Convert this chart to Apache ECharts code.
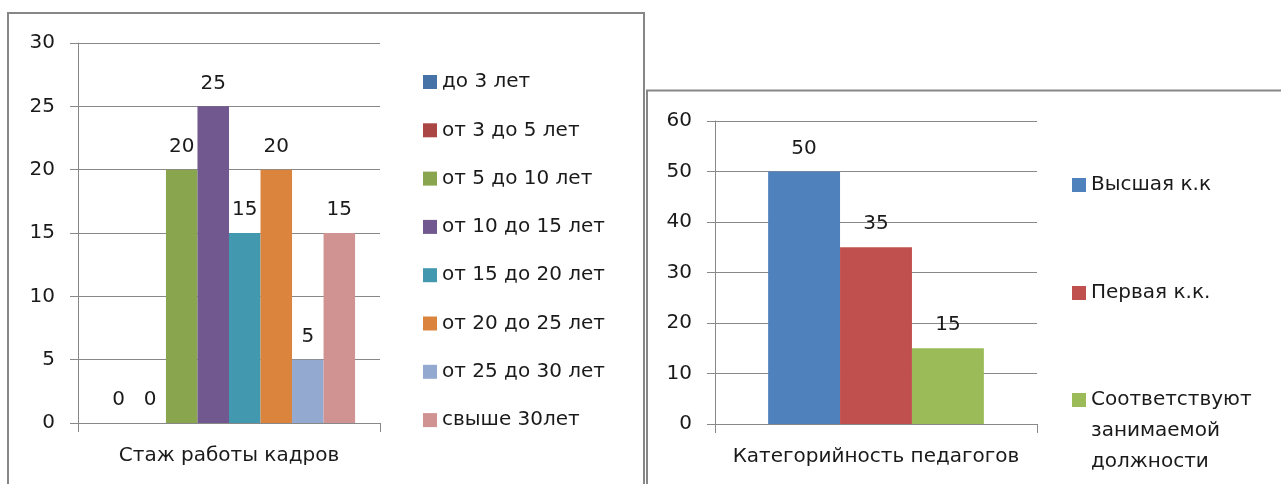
<!DOCTYPE html>
<html>
<head>
<meta charset="utf-8">
<script src="https://cdn.jsdelivr.net/npm/echarts@6/dist/echarts.min.js"></script>
<style>
  html, body { margin: 0; padding: 0; background: #fff; }
  #main { width: 1281px; height: 484px; }
</style>
</head>
<body>
<div id="main"></div>
<script>
// left chart: staff experience
var stageCategory = ["Стаж работы кадров"];
var stageNames = ["до 3 лет", "от 3 до 5 лет", "от 5 до 10 лет", "от 10 до 15 лет",
  "от 15 до 20 лет", "от 20 до 25 лет", "от 25 до 30 лет", "свыше 30лет"];
var stageValues = [0, 0, 20, 25, 15, 20, 5, 15];
var stageColors = ["#4573a7", "#aa4643", "#89a54e", "#71588f", "#4198af", "#db843d", "#93a9cf", "#d19392"];

// right chart: teacher categories
var rankCategory = ["Категорийность педагогов"];
var rankNames = ["Высшая к.к", "Первая к.к.", "Соответствуют занимаемой должности"];
var rankValues = [50, 35, 15];
var rankColors = ["#4f81bd", "#c0504d", "#9bbb59"];

var font = "'DejaVu Sans', sans-serif";
var textColor = "#1a1a1a";
var lineColor = "#888888";

function valueAxis(gridIndex, max, interval) {
  return {
    type: "value",
    gridIndex: gridIndex,
    min: 0,
    max: max,
    interval: interval,
    axisLine: { show: true, lineStyle: { color: lineColor } },
    axisTick: { show: true, length: 8, lineStyle: { color: lineColor } },
    splitLine: { show: true, lineStyle: { color: lineColor, width: 1 } },
    axisLabel: { margin: 23, fontSize: 20, color: textColor, fontFamily: font }
  };
}

function categoryAxis(gridIndex, data) {
  return {
    type: "category",
    gridIndex: gridIndex,
    data: data,
    axisLine: { show: true, lineStyle: { color: lineColor } },
    axisTick: { show: true, length: 9, lineStyle: { color: lineColor } },
    axisLabel: { margin: 23, fontSize: 20, color: textColor, fontFamily: font }
  };
}

function barSeries(name, value, color, axisIndex, gap) {
  return {
    type: "bar",
    name: name,
    xAxisIndex: axisIndex,
    yAxisIndex: axisIndex,
    data: [value],
    barGap: "0%",
    barCategoryGap: gap,
    itemStyle: { color: color },
    label: {
      show: true,
      position: "top",
      distance: 13,
      fontSize: 20,
      color: textColor,
      fontFamily: font
    }
  };
}

var series = [];
for (var i = 0; i < stageNames.length; i++) {
  series.push(barSeries(stageNames[i], stageValues[i], stageColors[i], 0, "16.5%"));
}
for (var j = 0; j < rankNames.length; j++) {
  series.push(barSeries(rankNames[j], rankValues[j], rankColors[j], 1, "33%"));
}

var legendText = { fontSize: 20, color: textColor, fontFamily: font, lineHeight: 24 };

function rankLegend(name, top, textStyle) {
  return {
    orient: "vertical",
    left: 1072,
    top: top,
    padding: 0,
    itemWidth: 14,
    itemHeight: 14,
    icon: "rect",
    selectedMode: false,
    textStyle: textStyle,
    // long name goes on three lines; two blank lines in front keep the first line beside the square
    formatter: function (n) {
      var words = n.split(" ");
      return words.length > 2 ? "\n\n" + words.join("\n") : n;
    },
    data: [name]
  };
}

var chartDom = document.getElementById("main");
var myChart = echarts.init(chartDom, null, { renderer: "canvas" });
var option = {
  animation: false,
  backgroundColor: "#ffffff",
  grid: [
    { left: 78, top: 43, width: 302, height: 380 },
    { left: 715, top: 121, width: 322, height: 303 }
  ],
  xAxis: [categoryAxis(0, stageCategory), categoryAxis(1, rankCategory)],
  yAxis: [valueAxis(0, 30, 5), valueAxis(1, 60, 10)],
  legend: [
    {
      orient: "vertical",
      left: 423,
      top: 70,
      padding: 0,
      itemGap: 24.3,
      itemWidth: 14,
      itemHeight: 14,
      icon: "rect",
      selectedMode: false,
      textStyle: legendText,
      data: stageNames
    },
    rankLegend(rankNames[0], 173, legendText),
    rankLegend(rankNames[1], 281, legendText),
    rankLegend(rankNames[2], 322.5, { fontSize: 20, color: textColor, fontFamily: font, lineHeight: 31 })
  ],
  graphic: [
    {
      type: "rect",
      shape: { x: 8, y: 13, width: 636, height: 520 },
      style: { fill: "none", stroke: "#878787", lineWidth: 2 },
      silent: true
    },
    {
      type: "rect",
      shape: { x: 647, y: 90.5, width: 700, height: 520 },
      style: { fill: "none", stroke: "#878787", lineWidth: 2 },
      silent: true
    }
  ],
  series: series
};
option && myChart.setOption(option);
</script>
</body>
</html>
